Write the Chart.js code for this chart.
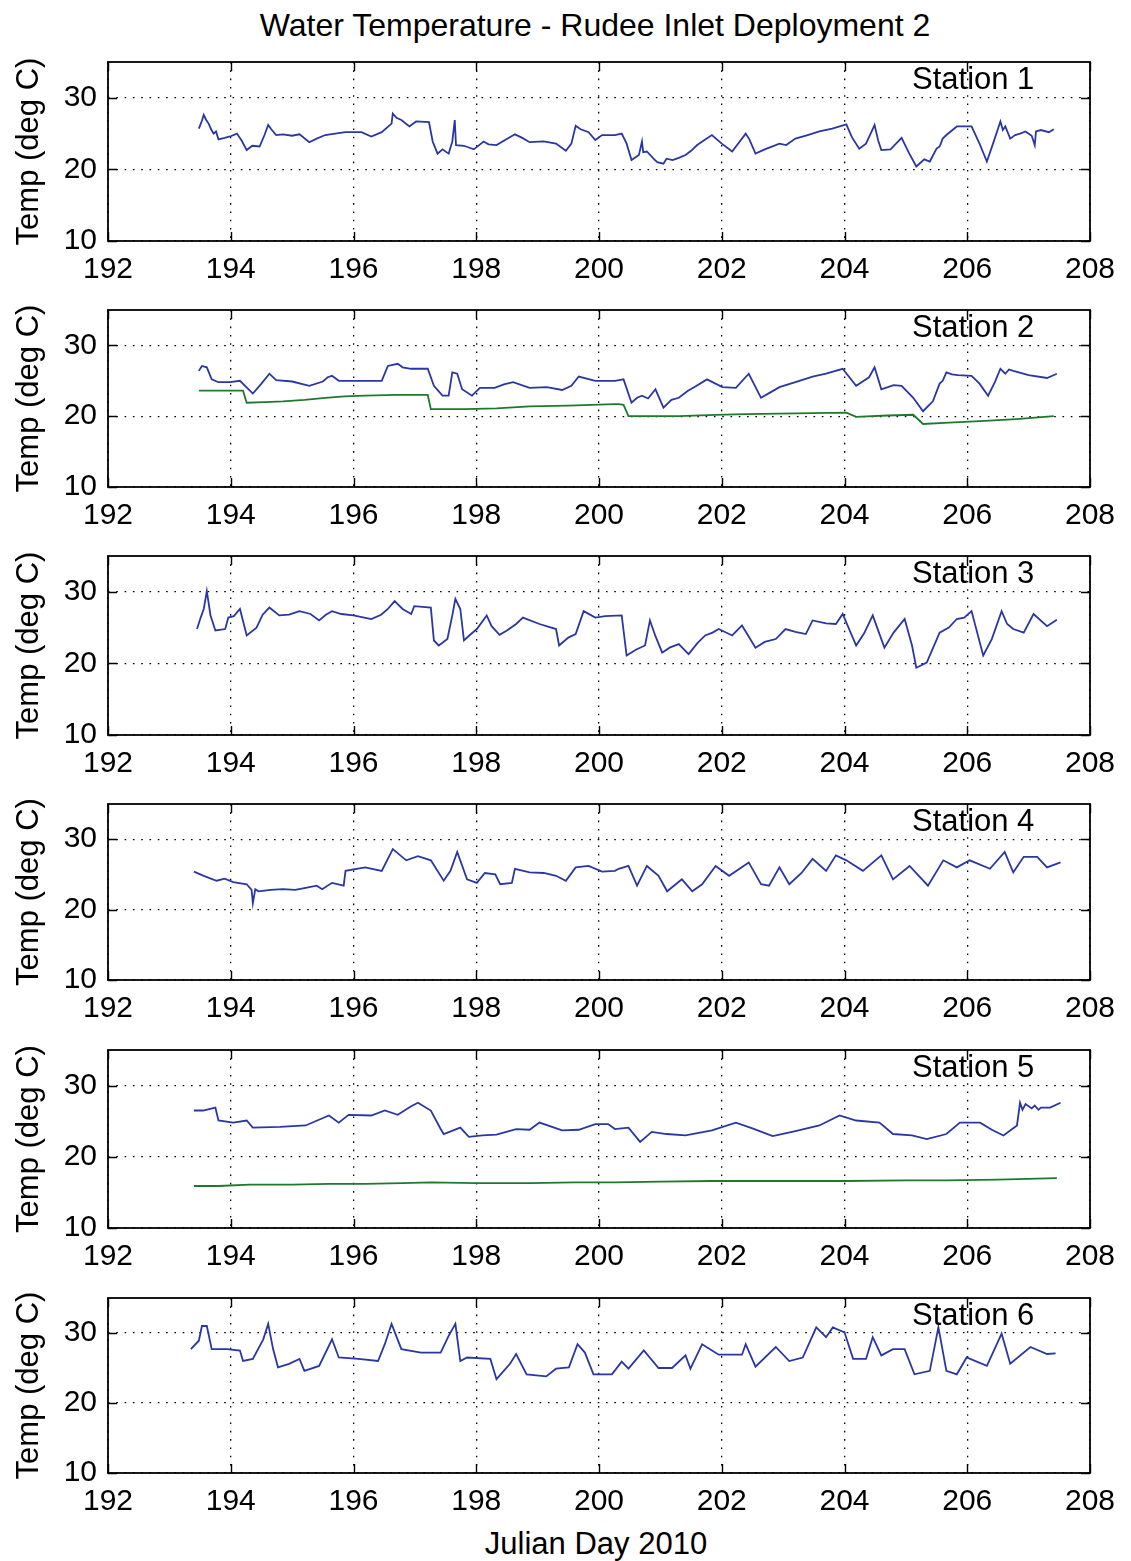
<!DOCTYPE html>
<html><head><meta charset="utf-8">
<script src="https://cdn.jsdelivr.net/npm/chart.js@4"></script>
<style>
html,body{margin:0;padding:0;background:#fff;}
body{width:1131px;height:1561px;position:relative;overflow:hidden;font-family:"Liberation Sans",Arial,sans-serif;color:#000;}
canvas.c{position:absolute;left:0;}
#title{position:absolute;top:7px;left:0;width:1190px;text-align:center;font-size:32px;line-height:36px;white-space:nowrap;}
#xlabel{position:absolute;top:1526px;left:0;width:1192px;text-align:center;font-size:31px;line-height:36px;white-space:nowrap;}
</style>
</head><body>
<div id="title">Water Temperature - Rudee Inlet Deployment 2</div>
<div id="xlabel">Julian Day 2010</div>
<script>
// ---- axis ticks ----
const xTicks = [192,194,196,198,200,202,204,206,208];
const yTicks = [10,20,30];
const xRange = [192,208];
const yRange = [10,35];
const stationNames = ['Station 1','Station 2','Station 3','Station 4','Station 5','Station 6'];

// ---- series: [Julian day, temperature deg C] ----
const st1Blue = [[193.48,25.7],[193.53,26.8],[193.56,27.6],[193.60,26.9],[193.64,26.4],[193.68,25.6],[193.72,25.0],[193.76,25.3],[193.80,24.2],[193.90,24.4],[193.99,24.6],[194.10,25.0],[194.18,24.0],[194.26,22.7],[194.35,23.3],[194.47,23.2],[194.55,24.8],[194.61,26.2],[194.66,25.6],[194.74,24.8],[194.85,24.9],[195.00,24.7],[195.12,24.9],[195.28,23.8],[195.40,24.3],[195.54,24.8],[195.70,25.0],[195.87,25.2],[196.13,25.2],[196.29,24.6],[196.46,25.2],[196.62,26.4],[196.64,27.8],[196.70,27.2],[196.78,26.9],[196.91,26.0],[197.02,26.7],[197.23,26.6],[197.29,23.9],[197.37,22.2],[197.45,22.8],[197.55,22.2],[197.61,23.9],[197.65,26.9],[197.67,23.4],[197.80,23.3],[197.96,22.8],[198.12,23.9],[198.20,23.5],[198.33,23.4],[198.63,24.9],[198.75,24.4],[198.87,23.8],[199.10,23.9],[199.30,23.6],[199.46,22.6],[199.55,23.6],[199.62,26.1],[199.70,25.6],[199.83,25.2],[199.94,24.1],[200.05,24.8],[200.26,24.8],[200.37,25.0],[200.45,23.6],[200.53,21.3],[200.65,22.0],[200.70,23.9],[200.72,22.4],[200.78,22.5],[200.90,21.4],[200.95,21.0],[201.05,20.8],[201.10,21.5],[201.20,21.3],[201.30,21.6],[201.41,22.0],[201.50,22.6],[201.60,23.4],[201.70,24.0],[201.84,24.8],[202.00,23.6],[202.17,22.5],[202.39,25.0],[202.45,24.2],[202.55,22.2],[202.70,22.8],[202.94,23.6],[203.05,23.4],[203.20,24.3],[203.40,24.8],[203.59,25.3],[203.80,25.7],[204.03,26.3],[204.12,24.5],[204.24,22.9],[204.35,23.6],[204.49,26.2],[204.55,24.0],[204.60,22.7],[204.75,22.8],[204.93,24.4],[205.05,22.3],[205.17,20.4],[205.30,21.4],[205.39,21.1],[205.50,22.9],[205.55,23.2],[205.60,24.3],[205.66,24.8],[205.83,26.0],[206.07,26.0],[206.20,23.6],[206.32,21.1],[206.42,23.6],[206.54,26.7],[206.58,25.5],[206.62,26.0],[206.70,24.3],[206.78,24.8],[206.86,25.0],[206.95,25.3],[207.05,24.7],[207.10,23.4],[207.12,25.3],[207.20,25.5],[207.33,25.2],[207.41,25.6]];

const st2Blue = [[193.48,26.4],[193.53,27.1],[193.61,26.9],[193.69,25.2],[193.80,24.8],[193.99,24.8],[194.15,25.0],[194.36,23.2],[194.50,24.6],[194.63,26.0],[194.74,25.1],[195.00,24.9],[195.28,24.3],[195.50,24.9],[195.58,25.5],[195.65,25.7],[195.76,25.0],[196.10,25.0],[196.46,25.0],[196.56,27.1],[196.72,27.4],[196.80,26.9],[196.94,26.7],[197.21,26.7],[197.31,24.3],[197.45,22.9],[197.55,22.9],[197.61,26.2],[197.69,26.0],[197.77,23.8],[197.93,22.9],[198.06,24.0],[198.30,24.0],[198.45,24.5],[198.60,24.8],[198.87,24.0],[199.15,24.1],[199.40,23.7],[199.55,24.3],[199.67,25.6],[199.94,25.0],[200.26,25.0],[200.40,25.2],[200.53,21.9],[200.62,22.6],[200.70,22.9],[200.80,22.5],[200.92,23.8],[201.05,21.2],[201.18,22.3],[201.30,22.6],[201.45,23.6],[201.55,24.1],[201.76,25.2],[202.01,24.1],[202.23,24.0],[202.44,26.0],[202.64,22.6],[202.80,23.4],[202.94,24.1],[203.20,24.8],[203.48,25.6],[203.70,26.0],[203.97,26.7],[204.19,24.3],[204.40,25.5],[204.49,26.9],[204.60,23.8],[204.80,24.4],[204.93,24.3],[205.12,22.6],[205.28,20.7],[205.44,22.1],[205.55,24.6],[205.60,25.0],[205.66,26.2],[205.75,25.9],[205.85,25.8],[206.07,25.7],[206.20,24.6],[206.34,22.9],[206.45,24.8],[206.54,26.7],[206.62,26.0],[206.68,26.6],[206.75,26.4],[207.00,25.8],[207.30,25.4],[207.46,26.0]];

const st2Green = [[193.48,23.6],[193.90,23.6],[194.20,23.6],[194.26,21.9],[194.55,22.0],[194.85,22.1],[195.20,22.3],[195.54,22.6],[195.85,22.8],[196.19,22.9],[196.70,23.0],[197.21,23.0],[197.26,21.0],[197.80,21.0],[198.33,21.1],[198.87,21.4],[199.50,21.5],[200.26,21.7],[200.32,21.7],[200.40,21.6],[200.48,20.0],[201.30,20.0],[201.90,20.2],[202.39,20.3],[203.20,20.4],[204.03,20.5],[204.19,19.9],[204.70,20.1],[205.12,20.2],[205.28,18.9],[205.70,19.1],[206.21,19.3],[206.80,19.6],[207.41,20.0]];

const st3Blue = [[193.45,24.8],[193.51,26.4],[193.56,27.6],[193.61,30.1],[193.67,26.7],[193.75,24.6],[193.91,24.8],[193.96,26.4],[194.05,26.6],[194.15,27.6],[194.26,23.9],[194.42,25.0],[194.52,26.8],[194.63,27.8],[194.79,26.7],[194.95,26.8],[195.12,27.3],[195.30,26.9],[195.44,26.0],[195.55,26.8],[195.65,27.3],[195.80,26.9],[196.00,26.7],[196.29,26.2],[196.45,26.8],[196.56,27.6],[196.67,28.7],[196.80,27.6],[196.94,26.9],[196.99,28.0],[197.26,27.8],[197.31,23.2],[197.39,22.5],[197.53,23.4],[197.61,26.7],[197.66,29.0],[197.74,27.6],[197.80,23.2],[197.90,24.0],[198.01,24.8],[198.17,26.7],[198.25,25.2],[198.38,24.0],[198.50,24.6],[198.65,25.5],[198.76,26.4],[199.03,25.5],[199.30,24.8],[199.35,22.5],[199.50,23.6],[199.62,24.1],[199.75,27.3],[199.94,26.4],[200.10,26.6],[200.37,26.7],[200.45,21.1],[200.60,21.9],[200.75,22.5],[200.83,26.0],[200.92,23.8],[201.03,21.5],[201.15,22.2],[201.30,22.7],[201.46,21.3],[201.60,22.8],[201.73,23.9],[201.85,24.3],[201.95,24.8],[202.17,23.9],[202.33,25.3],[202.55,22.2],[202.70,23.0],[202.88,23.4],[203.04,24.8],[203.20,24.4],[203.37,24.1],[203.48,26.0],[203.70,25.6],[203.86,25.5],[203.97,26.9],[204.19,22.5],[204.32,24.2],[204.46,26.7],[204.65,22.2],[204.80,24.3],[204.98,26.2],[205.10,22.5],[205.17,19.4],[205.34,20.1],[205.45,22.3],[205.55,24.3],[205.70,25.0],[205.83,26.2],[205.95,26.4],[206.07,27.3],[206.26,21.1],[206.40,23.4],[206.56,27.3],[206.65,25.5],[206.75,24.8],[206.92,24.3],[207.08,26.9],[207.30,25.2],[207.46,26.1]];

const st4Blue = [[193.40,25.4],[193.56,24.8],[193.77,24.1],[193.90,24.4],[194.04,23.9],[194.26,23.6],[194.34,22.8],[194.36,20.9],[194.40,22.9],[194.45,22.6],[194.65,22.8],[194.85,22.9],[195.05,22.8],[195.22,23.1],[195.40,23.4],[195.49,22.9],[195.65,23.8],[195.84,23.4],[195.87,25.5],[196.19,26.0],[196.46,25.5],[196.64,28.6],[196.86,27.0],[197.05,27.6],[197.26,27.0],[197.47,24.1],[197.58,25.5],[197.69,28.2],[197.85,24.3],[198.01,23.8],[198.14,25.2],[198.31,25.0],[198.39,23.6],[198.58,23.8],[198.63,25.8],[198.87,25.3],[199.10,25.2],[199.30,24.8],[199.46,24.1],[199.62,26.0],[199.83,26.2],[200.05,25.4],[200.26,25.5],[200.32,25.8],[200.48,26.2],[200.62,23.4],[200.78,26.2],[200.97,24.8],[201.11,22.6],[201.35,24.3],[201.52,22.6],[201.68,23.6],[201.90,26.2],[202.12,24.8],[202.44,26.7],[202.64,23.6],[202.77,23.4],[202.94,26.0],[203.10,23.6],[203.30,25.2],[203.48,27.2],[203.70,25.5],[203.86,27.7],[204.03,27.0],[204.30,25.5],[204.60,27.7],[204.79,24.3],[205.06,26.2],[205.36,23.4],[205.61,27.0],[205.83,26.0],[206.04,27.0],[206.37,25.8],[206.61,28.2],[206.75,25.3],[206.92,27.5],[207.14,27.5],[207.30,26.0],[207.52,26.7]];

const st5Blue = [[193.40,26.5],[193.55,26.5],[193.75,26.9],[193.80,25.1],[194.04,24.8],[194.26,25.1],[194.36,24.1],[194.80,24.2],[195.22,24.4],[195.60,25.8],[195.76,24.8],[195.92,25.9],[196.29,25.8],[196.51,26.5],[196.72,25.9],[196.94,27.1],[197.05,27.6],[197.26,26.5],[197.42,23.9],[197.47,23.2],[197.74,24.1],[197.88,22.8],[198.10,23.0],[198.33,23.1],[198.65,23.9],[198.87,23.8],[199.03,24.8],[199.40,23.7],[199.67,23.8],[199.94,24.6],[200.15,24.6],[200.26,23.9],[200.48,24.1],[200.67,22.1],[200.86,23.5],[201.10,23.2],[201.41,23.0],[201.84,23.7],[202.23,24.8],[202.50,24.0],[202.83,22.9],[203.20,23.6],[203.59,24.4],[203.92,25.8],[204.19,25.1],[204.57,24.8],[204.79,23.2],[205.10,23.0],[205.34,22.5],[205.66,23.2],[205.88,24.8],[206.21,24.8],[206.40,23.8],[206.59,23.0],[206.81,24.4],[206.86,27.6],[206.90,26.6],[206.95,27.4],[207.05,26.8],[207.10,27.2],[207.16,26.6],[207.20,26.9],[207.35,26.9],[207.52,27.6]];

const st5Green = [[193.40,15.9],[193.80,15.9],[194.31,16.1],[195.00,16.1],[195.60,16.2],[196.19,16.2],[196.80,16.3],[197.26,16.4],[198.00,16.3],[198.87,16.3],[199.60,16.4],[200.26,16.4],[201.00,16.5],[201.84,16.6],[202.90,16.6],[204.03,16.6],[205.00,16.7],[205.66,16.7],[206.50,16.8],[207.46,17.0]];

const st6Blue = [[193.35,27.7],[193.48,28.9],[193.53,31.0],[193.61,31.0],[193.69,27.7],[193.94,27.7],[194.15,27.5],[194.20,26.0],[194.36,26.3],[194.53,29.1],[194.61,31.3],[194.69,27.7],[194.77,25.1],[194.95,25.6],[195.12,26.3],[195.20,24.6],[195.44,25.3],[195.65,29.1],[195.76,26.5],[196.08,26.3],[196.40,26.0],[196.51,28.4],[196.62,31.3],[196.78,27.7],[197.10,27.2],[197.42,27.2],[197.55,29.6],[197.66,31.3],[197.74,26.0],[197.85,26.5],[198.23,26.3],[198.33,23.4],[198.55,25.6],[198.65,27.0],[198.82,24.1],[199.14,23.8],[199.30,24.9],[199.51,25.1],[199.65,28.4],[199.77,27.2],[199.91,24.1],[200.21,24.1],[200.37,25.9],[200.48,24.9],[200.73,27.5],[200.97,25.0],[201.19,25.0],[201.41,26.8],[201.49,24.9],[201.68,28.4],[201.95,26.9],[202.33,26.9],[202.39,28.4],[202.55,25.2],[202.88,28.0],[203.10,26.0],[203.32,26.5],[203.54,30.8],[203.70,29.4],[203.81,30.8],[204.00,30.1],[204.14,26.3],[204.35,26.3],[204.46,29.4],[204.60,26.8],[204.79,27.7],[204.98,27.7],[205.14,24.1],[205.39,24.6],[205.53,30.8],[205.66,24.6],[205.83,24.1],[205.99,26.5],[206.32,25.3],[206.56,29.9],[206.70,25.6],[207.03,28.0],[207.30,27.0],[207.44,27.1]];

const BLUE = '#2a37a3';
const GREEN = '#1d7a2c';
const panelSeries = [
  [st1Blue],
  [st2Blue, st2Green],
  [st3Blue],
  [st4Blue],
  [st5Blue, st5Green],
  [st6Blue]
];
const seriesColors = [BLUE, GREEN];

// ---- layout (pixels) ----
const panelTops = [62, 310, 556, 804, 1050, 1298];
const panelBottoms = [241, 487, 735, 980, 1228, 1473];
const padTop = 10, xAxisH = 58, yAxisW = 108, padRight = 41;

Chart.defaults.font.family = '"Liberation Sans", Arial, sans-serif';
Chart.defaults.color = '#000';

const framePlugin = {
  id: 'frame',
  afterDraw(chart, args, opts) {
    const {ctx, chartArea: a, scales: {x, y}} = chart;
    ctx.save();
    ctx.strokeStyle = '#000';
    ctx.lineWidth = 1.4;
    ctx.beginPath();
    xTicks.forEach(v => {
      const px = Math.round(x.getPixelForValue(v)) + 0.5;
      ctx.moveTo(px, a.bottom); ctx.lineTo(px, a.bottom - 9);
      ctx.moveTo(px, a.top); ctx.lineTo(px, a.top + 9);
    });
    yTicks.forEach(v => {
      const py = Math.round(y.getPixelForValue(v)) + 0.5;
      ctx.moveTo(a.left, py); ctx.lineTo(a.left + 9, py);
      ctx.moveTo(a.right, py); ctx.lineTo(a.right - 9, py);
    });
    ctx.stroke();
    ctx.lineWidth = 1.8;
    ctx.strokeRect(a.left, a.top, a.right - a.left, a.bottom - a.top);
    ctx.font = '31px "Liberation Sans", Arial, sans-serif';
    ctx.fillStyle = '#000';
    ctx.textAlign = 'left';
    ctx.textBaseline = 'alphabetic';
    ctx.fillText(opts.label, a.right - 178, a.top + 27);
    ctx.restore();
  }
};

panelTops.forEach((top, i) => {
  const h = panelBottoms[i] - top;
  const cv = document.createElement('canvas');
  cv.className = 'c';
  cv.width = 1131;
  cv.height = h + padTop + xAxisH;
  cv.style.top = (top - padTop) + 'px';
  cv.style.width = '1131px';
  cv.style.height = cv.height + 'px';
  document.body.appendChild(cv);

  new Chart(cv, {
    type: 'line',
    data: {
      datasets: panelSeries[i].map((s, k) => ({
        data: s.map(p => ({x: p[0], y: p[1]})),
        borderColor: seriesColors[k],
        borderWidth: 1.8,
        pointRadius: 0,
        tension: 0,
        fill: false
      }))
    },
    options: {
      responsive: false,
      animation: false,
      devicePixelRatio: 1,
      layout: {padding: {top: padTop, right: padRight, left: 0, bottom: 0}},
      plugins: {legend: {display: false}, tooltip: {enabled: false}, frame: {label: stationNames[i]}},
      scales: {
        x: {
          type: 'linear', min: xRange[0], max: xRange[1],
          afterBuildTicks: s => { s.ticks = xTicks.map(v => ({value: v})); },
          afterFit: s => { s.height = xAxisH; s.paddingLeft = 0; s.paddingRight = 0; },
          grid: {color: '#000', lineWidth: 1.3, drawTicks: false},
          border: {display: false, dash: [1.6, 6.7]},
          ticks: {color: '#000', font: {size: 30}, padding: 11, maxRotation: 0, autoSkip: false, callback: v => String(v)}
        },
        y: {
          type: 'linear', min: yRange[0], max: yRange[1],
          afterBuildTicks: s => { s.ticks = yTicks.map(v => ({value: v})); },
          afterFit: s => { s.width = yAxisW; s.paddingTop = 0; s.paddingBottom = 0; },
          grid: {color: '#000', lineWidth: 1.3, drawTicks: false},
          border: {display: false, dash: [1.6, 6.7]},
          ticks: {color: '#000', font: {size: 30}, padding: 11, callback: v => String(v)},
          title: {display: true, text: 'Temp (deg C)', color: '#000', font: {size: 31}, padding: {top: 11, bottom: 0}}
        }
      }
    },
    plugins: [framePlugin]
  });
});
</script>
</body></html>
